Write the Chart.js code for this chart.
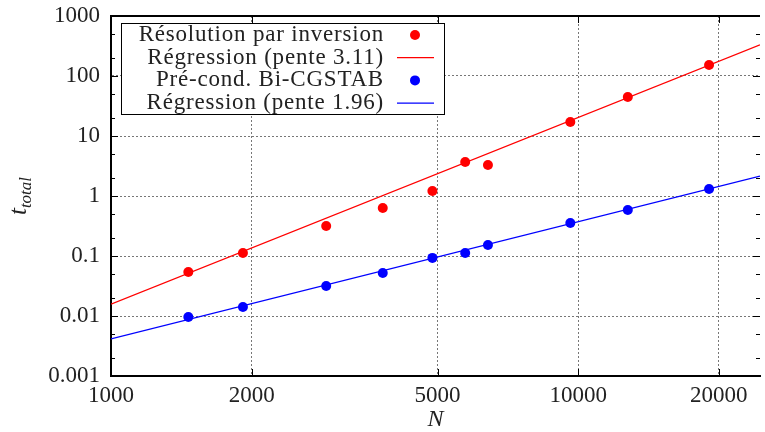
<!DOCTYPE html>
<html>
<head>
<meta charset="utf-8">
<script src="https://cdn.jsdelivr.net/npm/chart.js@4.4.1/dist/chart.umd.min.js"></script>
<style>
  html, body { margin: 0; padding: 0; background: #fff; }
</style>
</head>
<body>
<canvas id="chart" width="765" height="432"></canvas>
<script>
// DATA
const nInversion = [1464, 1916, 2888, 3817, 4875, 5730, 6410, 9620, 12770, 19060];
const tInversion = [0.054, 0.112, 0.316, 0.63, 1.21, 3.69, 3.29, 17.1, 44.7, 152];
const nBicg = [1464, 1916, 2888, 3817, 4875, 5730, 6410, 9620, 12770, 19060];
const tBicg = [0.0096, 0.0141, 0.0316, 0.052, 0.093, 0.112, 0.153, 0.355, 0.585, 1.31];
const nFit = [1000, 24500];
const tFitInversion = [0.0158, 330];
const tFitBicg = [0.00414, 2.15];
const xTicks = [1000, 2000, 5000, 10000, 20000];
const yTicks = [0.001, 0.01, 0.1, 1, 10, 100, 1000];
const yMinor = [0.002, 0.005, 0.02, 0.05, 0.2, 0.5, 2, 5, 20, 50, 200, 500];
const labels = ['Résolution par inversion', 'Régression (pente 3.11)', 'Pré-cond. Bi-CGSTAB', 'Régression (pente 1.96)'];

const serif = "'Liberation Serif', 'DejaVu Serif', serif";
const toPoints = (xs, ys) => xs.map((x, i) => ({x: x, y: ys[i]}));

// no extra room for the outer tick labels
const noPad = s => { s.paddingLeft = 0; s.paddingRight = 0; s.paddingTop = 0; s.paddingBottom = 0; };

// frame, inward ticks, y title, legend
const decor = {
    id: 'decor',
    afterDraw(chart) {
        const {ctx, chartArea: a, scales: {x, y}} = chart;
        ctx.save();
        ctx.strokeStyle = '#000';
        ctx.lineWidth = 1;
        ctx.beginPath();
        xTicks.forEach(v => {
            const px = Math.round(x.getPixelForValue(v)) + 0.5;
            ctx.moveTo(px, a.bottom); ctx.lineTo(px, a.bottom - 7);
            ctx.moveTo(px, a.top); ctx.lineTo(px, a.top + 7);
        });
        yTicks.forEach(v => {
            const py = Math.round(y.getPixelForValue(v)) + 0.5;
            ctx.moveTo(a.left, py); ctx.lineTo(a.left + 7, py);
            ctx.moveTo(a.right, py); ctx.lineTo(a.right - 7, py);
        });
        yMinor.forEach(v => {
            const py = Math.round(y.getPixelForValue(v)) + 0.5;
            ctx.moveTo(a.left, py); ctx.lineTo(a.left + 4, py);
            ctx.moveTo(a.right, py); ctx.lineTo(a.right - 4, py);
        });
        ctx.stroke();
        ctx.lineWidth = 2;
        ctx.beginPath();
        ctx.moveTo(a.left, a.top); ctx.lineTo(a.right, a.top);
        ctx.stroke();

        // y axis title t_total
        ctx.fillStyle = '#222';
        ctx.translate(26, (a.top + a.bottom) / 2);
        ctx.rotate(-Math.PI / 2);
        ctx.textBaseline = 'alphabetic';
        ctx.textAlign = 'left';
        ctx.font = 'italic 25px ' + serif;
        const tw = ctx.measureText('t').width;
        ctx.font = 'italic 17px ' + serif;
        const sw = ctx.measureText('total').width;
        const x0 = -(tw + sw) / 2;
        ctx.font = 'italic 25px ' + serif;
        ctx.fillText('t', x0, 0);
        ctx.font = 'italic 17px ' + serif;
        ctx.fillText('total', x0 + tw, 5);
        ctx.restore();

        // legend box
        ctx.save();
        const bx = a.left + 10, by = a.top + 7, bw = 323, bh = 91;
        ctx.fillStyle = '#fff';
        ctx.fillRect(bx, by, bw, bh);
        ctx.strokeStyle = '#000';
        ctx.lineWidth = 1;
        ctx.strokeRect(bx + 0.5, by + 0.5, bw, bh);
        ctx.font = '23px ' + serif;
        ctx.letterSpacing = '0.8px';
        ctx.textAlign = 'right';
        ctx.textBaseline = 'middle';
        chart.data.datasets.forEach((ds, i) => {
            const ry = by + 12 + i * 22.7;
            ctx.fillStyle = '#222';
            ctx.fillText(ds.label, bx + 263, ry);
            if (ds.showLine) {
                ctx.strokeStyle = ds.borderColor;
                ctx.lineWidth = 1.3;
                ctx.beginPath();
                ctx.moveTo(bx + 276, ry); ctx.lineTo(bx + 313, ry);
                ctx.stroke();
            } else {
                ctx.fillStyle = ds.backgroundColor;
                ctx.beginPath();
                ctx.arc(bx + 294, ry, 5, 0, Math.PI * 2);
                ctx.fill();
            }
        });
        ctx.restore();
    }
};

new Chart(document.getElementById('chart'), {
    type: 'scatter',
    data: {
        datasets: [
            {
                label: labels[0],
                data: toPoints(nInversion, tInversion),
                backgroundColor: '#ff0000',
                borderColor: '#ff0000',
                pointRadius: 5,
                borderWidth: 0,
                order: 0
            },
            {
                label: labels[1],
                data: toPoints(nFit, tFitInversion),
                showLine: true,
                borderColor: '#ff0000',
                borderWidth: 1.3,
                pointRadius: 0,
                order: 1
            },
            {
                label: labels[2],
                data: toPoints(nBicg, tBicg),
                backgroundColor: '#0000ff',
                borderColor: '#0000ff',
                pointRadius: 5,
                borderWidth: 0,
                order: 0
            },
            {
                label: labels[3],
                data: toPoints(nFit, tFitBicg),
                showLine: true,
                borderColor: '#0000ff',
                borderWidth: 1.3,
                pointRadius: 0,
                order: 1
            }
        ]
    },
    options: {
        responsive: false,
        animation: false,
        devicePixelRatio: 1,
        layout: { padding: { top: 16, right: 0, left: 0, bottom: 0 } },
        plugins: {
            legend: { display: false },
            tooltip: { enabled: false }
        },
        scales: {
            x: {
                type: 'logarithmic',
                min: 1000,
                max: 24500,
                afterBuildTicks: s => { s.ticks = xTicks.map(v => ({value: v})); },
                afterFit: s => { s.height = 56; noPad(s); },
                ticks: {
                    color: '#222',
                    padding: 6,
                    maxRotation: 0,
                    autoSkip: false,
                    font: { family: serif, size: 23 },
                    callback: v => String(v)
                },
                grid: { color: '#777', lineWidth: 1, drawTicks: false },
                border: { color: '#000', width: 2, dash: [2, 2] },
                title: {
                    display: true,
                    text: 'N',
                    color: '#222',
                    padding: 0,
                    font: { family: serif, size: 24, style: 'italic', lineHeight: 1 }
                }
            },
            y: {
                type: 'logarithmic',
                min: 0.001,
                max: 1000,
                afterBuildTicks: s => { s.ticks = yTicks.map(v => ({value: v})); },
                afterFit: s => { s.width = 111; noPad(s); },
                ticks: {
                    color: '#222',
                    padding: 11,
                    autoSkip: false,
                    font: { family: serif, size: 23 },
                    callback: v => String(v)
                },
                grid: { color: '#777', lineWidth: 1, drawTicks: false },
                border: { color: '#000', width: 2, dash: [2, 2] }
            }
        }
    },
    plugins: [decor]
});
</script>
</body>
</html>
